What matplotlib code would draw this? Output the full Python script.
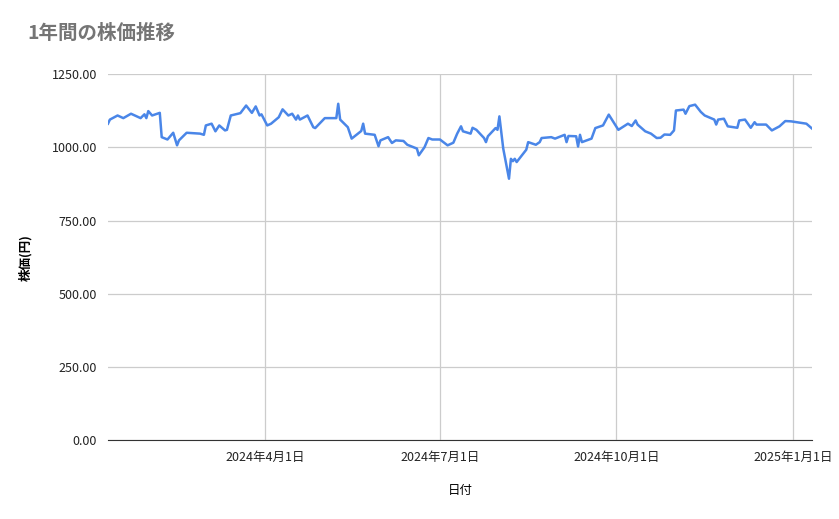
import numpy as np
import pandas as pd
import matplotlib
matplotlib.use("Agg")
import matplotlib.pyplot as plt
import matplotlib.dates as mdates

plt.rcParams['font.family'] = ['Noto Sans CJK JP', 'DejaVu Sans']

start = "2024-01-10"
days = [0, 1, 5, 8, 12, 14, 17, 19, 20, 21, 23, 27, 28, 31, 34, 36, 37, 41, 48, 50,
        51, 54, 56, 58, 61, 62, 64, 69, 72, 75, 77, 79, 80, 83, 85, 89, 91, 94, 96, 98,
        99, 100, 104, 107, 108, 113, 119, 120, 121, 125, 127, 132, 133, 134, 139, 141, 142, 146, 148, 150,
        154, 156, 161, 162, 165, 167, 169, 173, 177, 180, 182, 184, 185, 189, 190, 192, 196, 197, 198, 202,
        203, 204, 206, 209, 210, 211, 212, 213, 218, 219, 223, 225, 226, 231, 233, 238, 239, 240, 244, 245,
        246, 247, 252, 254, 258, 261, 266, 271, 273, 275, 276, 280, 283, 286, 288, 290, 293, 295, 296, 300,
        301, 303, 306, 309, 311, 316, 317, 318, 321, 323, 328, 329, 332, 335, 337, 338, 343, 346, 350, 353,
        356, 364, 367]
prices = [1081, 1095, 1109, 1100, 1115, 1109, 1100, 1113, 1100, 1124, 1109, 1118, 1035, 1027, 1050, 1007, 1024, 1050, 1047, 1043,
          1075, 1081, 1055, 1075, 1058, 1060, 1109, 1117, 1143, 1118, 1140, 1109, 1113, 1075, 1081, 1103, 1130, 1109, 1115, 1095,
          1109, 1095, 1109, 1069, 1066, 1100, 1100, 1149, 1095, 1069, 1030, 1056, 1081, 1047, 1043, 1004, 1024, 1035, 1015, 1024,
          1022, 1009, 996, 973, 1001, 1032, 1027, 1027, 1007, 1016, 1047, 1072, 1055, 1047, 1067, 1060, 1032, 1018, 1038, 1066,
          1060, 1106, 996, 893, 961, 953, 961, 950, 992, 1018, 1009, 1018, 1032, 1035, 1030, 1043, 1018, 1039, 1038, 1003,
          1043, 1018, 1030, 1066, 1075, 1112, 1060, 1081, 1073, 1092, 1078, 1055, 1047, 1032, 1033, 1044, 1043, 1058, 1126, 1129,
          1115, 1141, 1146, 1121, 1109, 1095, 1078, 1095, 1098, 1072, 1067, 1092, 1095, 1067, 1086, 1078, 1078, 1058, 1072, 1090,
          1089, 1081, 1064]
tick_dates = ["2024-04-01", "2024-07-01", "2024-10-01", "2025-01-01"]

dates = pd.Timestamp(start) + pd.to_timedelta(days, unit="D")

fig = plt.figure(figsize=(8.39, 5.19), dpi=100)
ax = fig.add_axes([0.1287, 0.152, 0.8393, 0.705])
ax.plot(dates, prices, color="#4a86e8", lw=1.8)

ax.set_ylim(0, 1250)
ax.set_yticks(np.arange(0, 1251, 250))
ax.yaxis.set_major_formatter(plt.FuncFormatter(lambda v, p: f"{v:.2f}"))
ax.set_xlim(dates[0], dates[-1])
ticks = pd.to_datetime(tick_dates)
ax.set_xticks(ticks)
ax.set_xticklabels([f"{t.year}年{t.month}月{t.day}日" for t in ticks])

ax.grid(True, color="#cccccc", lw=0.9)
ax.set_axisbelow(True)
for s in ["top", "right", "left"]:
    ax.spines[s].set_visible(False)
ax.spines["bottom"].set_color("#333333")
ax.tick_params(length=0, labelsize=9, colors="#222222", pad=8)

ax.set_xlabel("日付", fontsize=9, labelpad=14)
ax.set_ylabel("株価(円)", fontsize=9, fontweight="bold", labelpad=14)
fig.text(0.033, 0.925, "1年間の株価推移", fontsize=14, color="#757575", fontweight="bold")

fig.savefig("out.png", dpi=100, facecolor="white")
